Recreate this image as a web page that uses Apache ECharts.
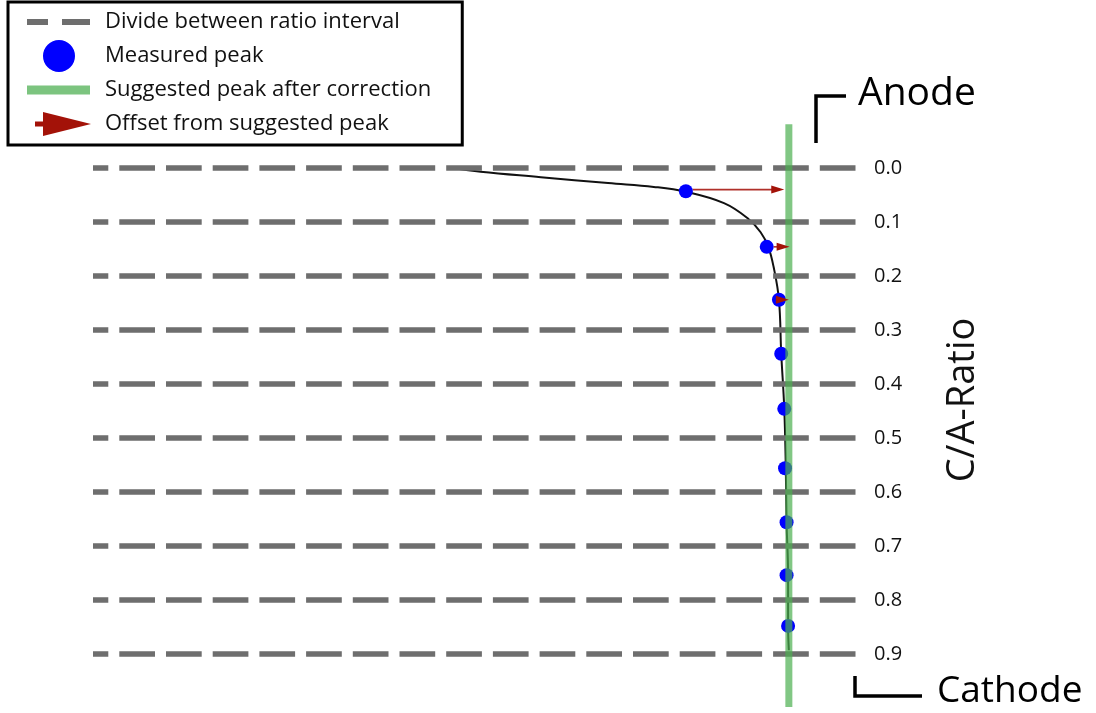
<!DOCTYPE html>
<html><head><meta charset="utf-8">
<script src="https://cdn.jsdelivr.net/npm/echarts@6/dist/echarts.min.js"></script>
<style>html,body{margin:0;padding:0;background:#fff}#c{width:1096px;height:713px}</style>
</head><body><div id="c"></div>
<script>
// ---- data ----
const seriesNames = ['Divide between ratio interval', 'Measured peak', 'Suggested peak after correction', 'Offset from suggested peak'];
const ratioTicks = [0.0, 0.1, 0.2, 0.3, 0.4, 0.5, 0.6, 0.7, 0.8, 0.9];
const tickLabels = ['0.0', '0.1', '0.2', '0.3', '0.4', '0.5', '0.6', '0.7', '0.8', '0.9'];
const axisTitle = 'C/A-Ratio';
const anodeLabel = 'Anode';
const cathodeLabel = 'Cathode';
// black fitted curve (position, ratio)
const curveX = [47.2, 50.8, 58.7, 67.5, 73.5, 77.7, 82.7, 85.8, 87.5, 88.5, 89.2, 89.9, 90.2, 90.6, 90.8, 90.9, 91.1, 91.1, 91.2];
const curveY = [0.000, 0.007, 0.017, 0.028, 0.035, 0.044, 0.065, 0.093, 0.119, 0.146, 0.183, 0.244, 0.343, 0.446, 0.556, 0.656, 0.754, 0.848, 0.893];
// measured peaks
const peakX = [77.7, 88.3, 89.9, 90.2, 90.6, 90.7, 90.9, 90.9, 91.1];
const peakY = [0.043, 0.146, 0.244, 0.344, 0.446, 0.556, 0.656, 0.754, 0.848];
// suggested peak after correction
const suggestedX = 91.2;
const suggestedSpan = [-0.081, 0.998];
// offsets (arrows)
const offsetFromX = [77.7, 88.3, 89.9];
const offsetToX = [90.6, 91.3, 91.2];
const offsetY = [0.040, 0.146, 0.244];

// ---- styles ----
const FONT = 'Open Sans';
const GRAY = '#6e6e6e';
const BLUE = '#0000ff';
const GREEN = '#4caf50';
const RED = '#a31208';

// legend icons (73 x 34 boxes, invisible corner marks fix the bounding box)
const corners = 'M0,0 L0.05,0 L0,0.05 Z M73,34 L72.95,34 L73,33.95 Z ';
const iconDash = 'path://' + corners + 'M0,14 L21,14 L21,20 L0,20 Z M35,14 L63,14 L63,20 L35,20 Z';
const iconDot = 'path://' + corners + 'M16,17 A16,16 0 1,1 48,17 A16,16 0 1,1 16,17 Z';
const iconGreen = 'path://' + corners + 'M0,12.5 L63,12.5 L63,21.5 L0,21.5 Z';
const iconArrow = 'path://' + corners + 'M8,14.5 L20,14.5 L20,19.5 L8,19.5 Z M16,5 L64,17 L16,29 Z';

const chart = echarts.init(document.getElementById('c'), null, {renderer: 'canvas'});

const option = {
  animation: false,
  backgroundColor: '#fff',
  textStyle: {fontFamily: FONT},
  grid: {left: 93, right: 240, top: 168, bottom: 59},
  xAxis: {type: 'value', min: 0, max: 100, show: false},
  yAxis: {
    type: 'value', min: 0, max: 0.9, interval: 0.1, inverse: true, position: 'right',
    axisLine: {show: false}, axisTick: {show: false}, splitLine: {show: false},
    axisLabel: {margin: 18, color: '#111', fontSize: 20, fontFamily: FONT,
      formatter: v => tickLabels[ratioTicks.findIndex(t => Math.abs(t - v) < 1e-6)] ?? v.toFixed(1)},
    name: axisTitle, nameLocation: 'middle', nameRotate: 90, nameGap: 88,
    nameTextStyle: {fontSize: 38, color: '#111', fontFamily: FONT, padding: [0, 0, 0, 22]}
  },
  legend: {
    orient: 'vertical', left: 8, top: 2, itemGap: 0, itemWidth: 73, itemHeight: 34,
    padding: [3, 31, 4, 19], borderColor: '#000', borderWidth: 3, backgroundColor: '#fff',
    selectedMode: false,
    textStyle: {fontSize: 22, color: '#111', fontFamily: FONT},
    itemStyle: {borderWidth: 0},
    data: [
      {name: seriesNames[0], icon: iconDash, itemStyle: {color: GRAY}},
      {name: seriesNames[1], icon: iconDot, itemStyle: {color: BLUE}},
      {name: seriesNames[2], icon: iconGreen, itemStyle: {color: '#7cc47f'}},
      {name: seriesNames[3], icon: iconArrow, itemStyle: {color: RED}}
    ]
  },
  graphic: [
    {type: 'polyline', shape: {points: [[816, 143], [816, 96], [846, 96]]}, style: {stroke: '#000', lineWidth: 3.5, fill: null}},
    {type: 'text', x: 858, y: 94, style: {text: anodeLabel, font: '39px "Open Sans"', fill: '#000', verticalAlign: 'middle'}},
    {type: 'polyline', shape: {points: [[855, 676], [855, 696], [922, 696]]}, style: {stroke: '#000', lineWidth: 3.5, fill: null}},
    {type: 'text', x: 937, y: 691, style: {text: cathodeLabel, font: '37px "Open Sans"', fill: '#000', verticalAlign: 'middle'}}
  ],
  series: [
    {
      name: seriesNames[0], type: 'line', data: [], z: 1,
      itemStyle: {color: GRAY}, lineStyle: {color: GRAY},
      markLine: {
        silent: true, symbol: 'none', animation: false,
        label: {show: false},
        lineStyle: {color: GRAY, width: 5.5, type: [35.7, 11], dashOffset: 20.4},
        emphasis: {disabled: true},
        data: ratioTicks.map(r => ({yAxis: r}))
      }
    },
    {
      name: 'curve', type: 'line', smooth: 0.4, symbol: 'none', z: 3,
      lineStyle: {color: '#111', width: 2},
      data: curveX.map((x, i) => [x, curveY[i]])
    },
    {
      name: seriesNames[1], type: 'scatter', symbol: 'circle', symbolSize: 14, z: 4,
      itemStyle: {color: BLUE, opacity: 1},
      data: peakX.map((x, i) => [x, peakY[i]])
    },
    {
      name: seriesNames[2], type: 'line', symbol: 'none', clip: false, z: 5,
      lineStyle: {color: GREEN, width: 7, opacity: 0.7},
      itemStyle: {color: '#7cc47f'},
      data: suggestedSpan.map(y => [suggestedX, y])
    },
    {
      name: seriesNames[3], type: 'custom', z: 6, clip: false,
      itemStyle: {color: RED},
      data: offsetFromX.map((x, i) => [x, offsetY[i], offsetToX[i]]),
      renderItem: (params, api) => {
        const p0 = api.coord([api.value(0), api.value(1)]);
        const p1 = api.coord([api.value(2), api.value(1)]);
        const headLen = 13, headHalf = 4;
        const sx = p0[0] + 7, ex = p1[0] - headLen;
        const children = [];
        if (ex > sx) {
          children.push({type: 'line', shape: {x1: sx, y1: p0[1], x2: ex + 1, y2: p1[1]},
            style: {stroke: '#b0302a', lineWidth: 1.6}});
        }
        children.push({type: 'polygon', shape: {points: [[p1[0] - headLen, p1[1] - headHalf], [p1[0], p1[1]], [p1[0] - headLen, p1[1] + headHalf]]},
          style: {fill: RED}});
        return {type: 'group', children};
      }
    }
  ]
};
chart.setOption(option);
</script>
</body></html>
